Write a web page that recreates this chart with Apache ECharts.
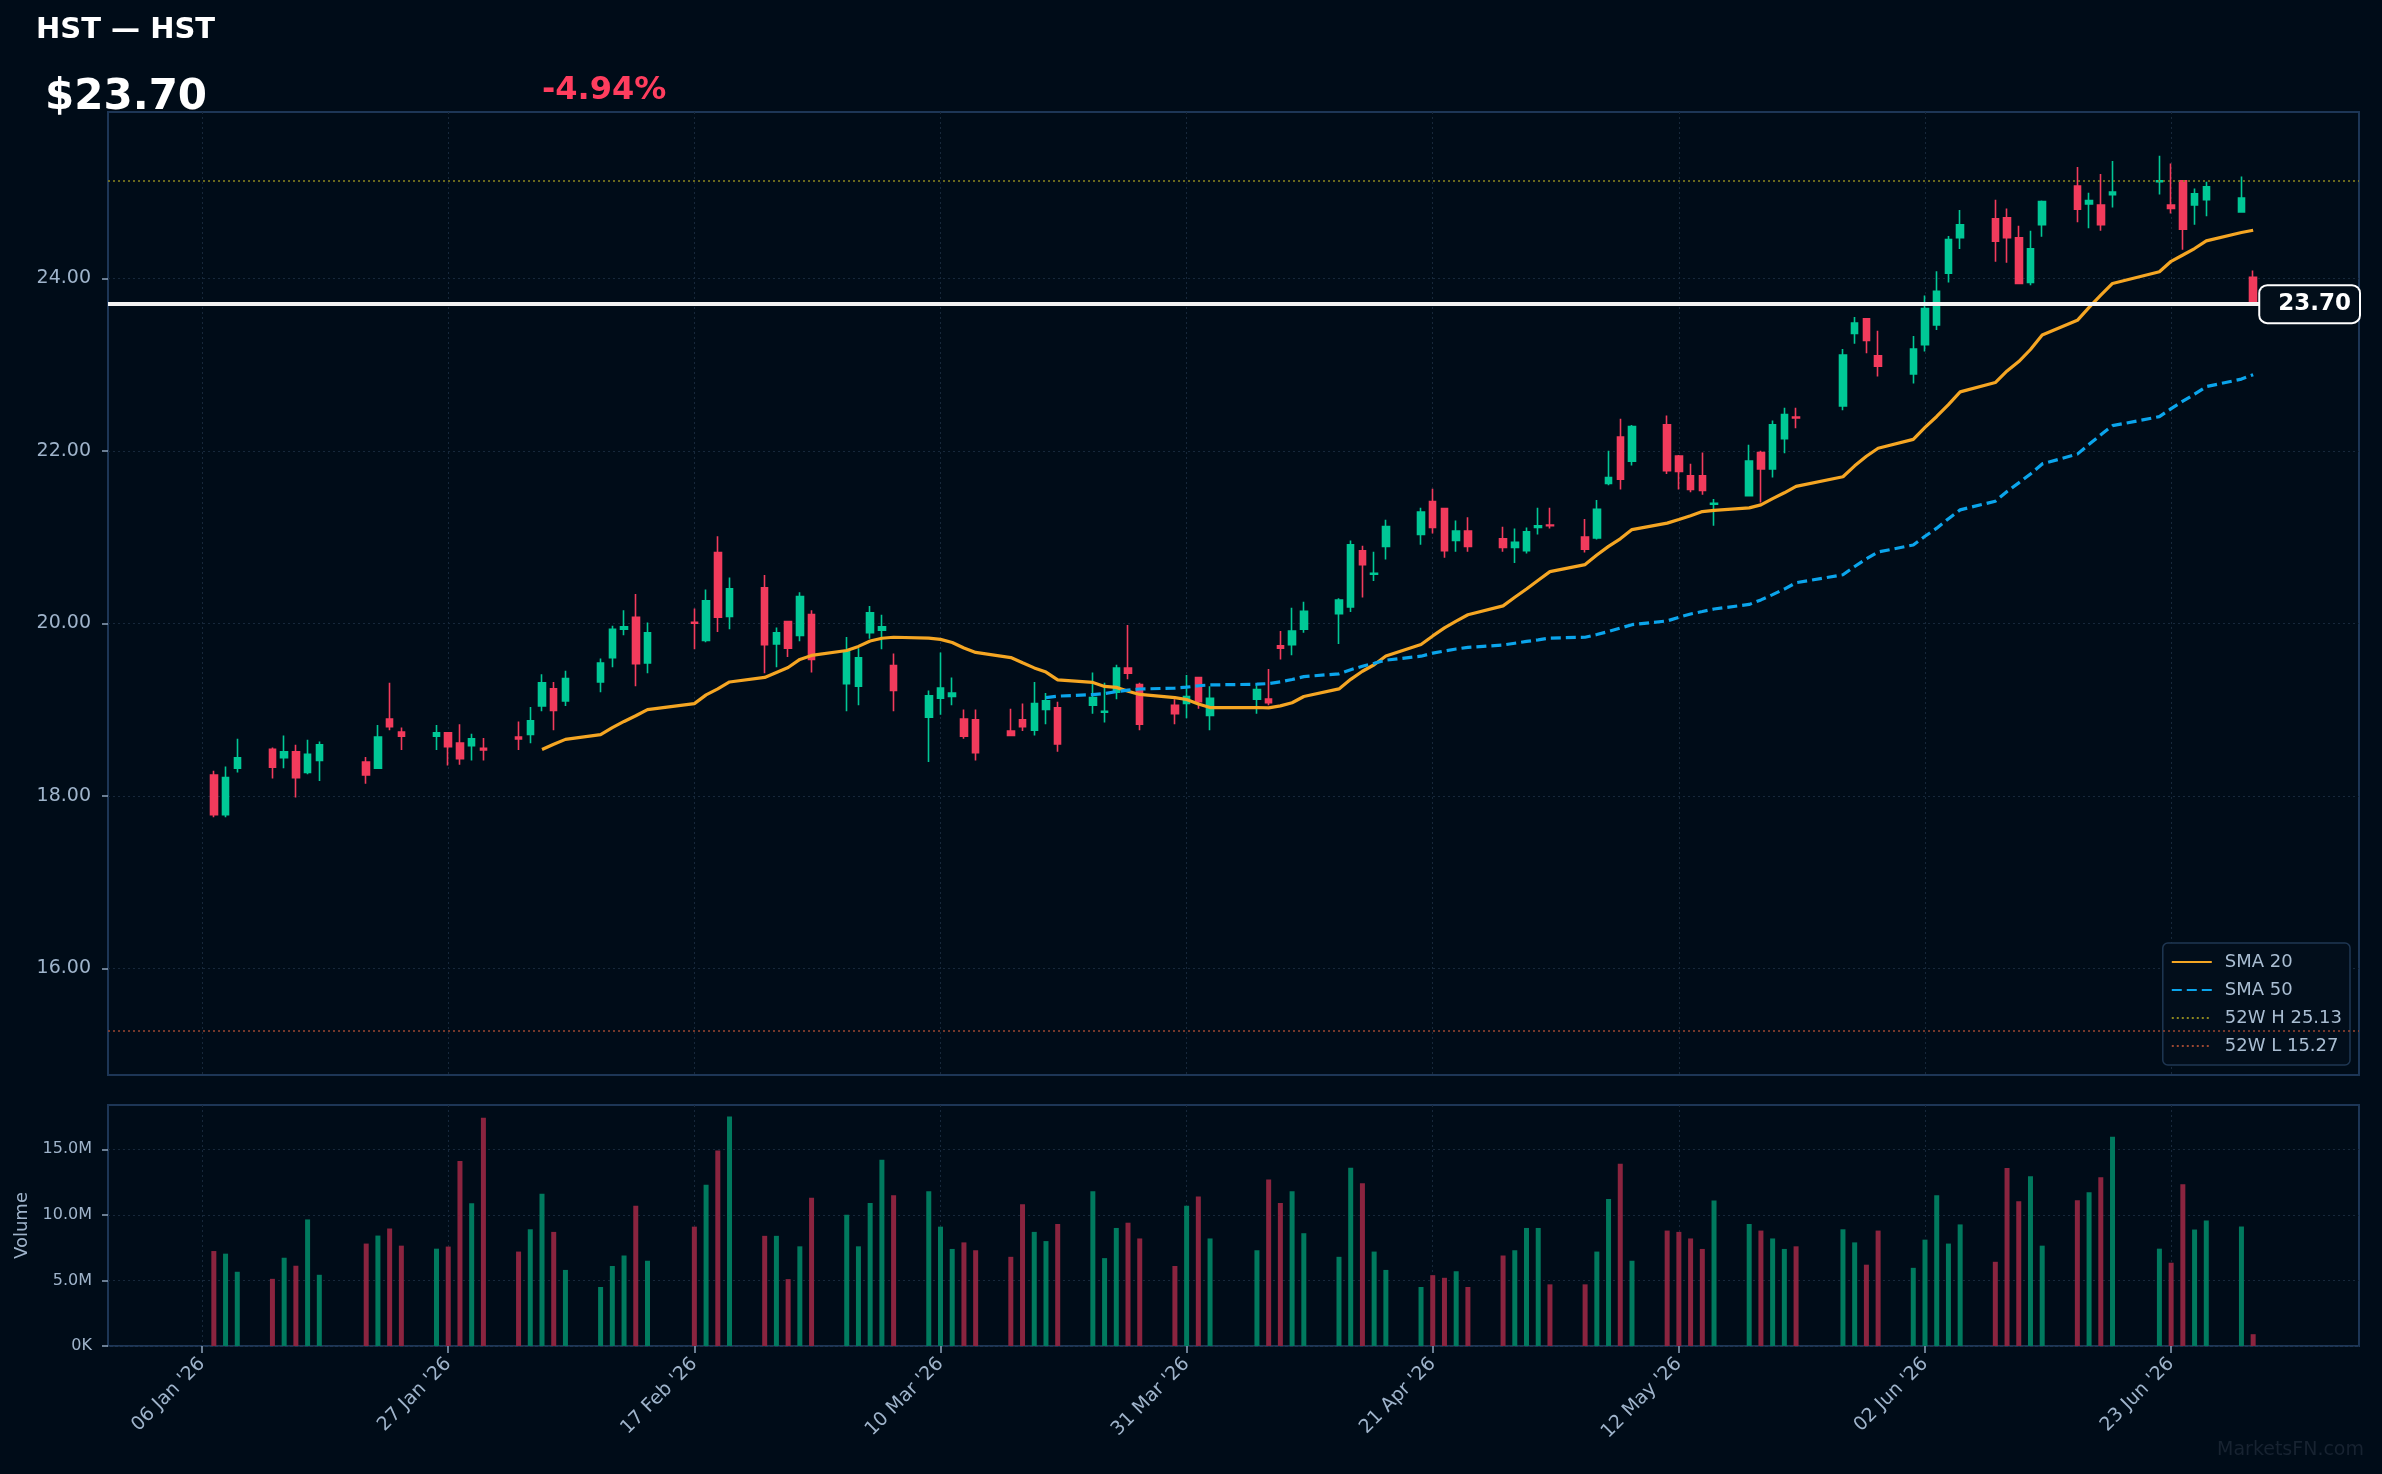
<!DOCTYPE html>
<html>
<head>
<meta charset="utf-8">
<title>HST</title>
<script src="https://cdn.jsdelivr.net/npm/echarts@6.0.0/dist/echarts.min.js"></script>
<style>
html,body{margin:0;padding:0;background:#000c18;}
#chart{width:2382px;height:1474px;}
</style>
</head>
<body>
<div id="chart"></div>
<script>
// daily bars
var dates = [
 '2026-01-07','2026-01-08','2026-01-09','2026-01-12','2026-01-13','2026-01-14','2026-01-15','2026-01-16',
 '2026-01-20','2026-01-21','2026-01-22','2026-01-23','2026-01-26','2026-01-27','2026-01-28','2026-01-29','2026-01-30',
 '2026-02-02','2026-02-03','2026-02-04','2026-02-05','2026-02-06','2026-02-09','2026-02-10','2026-02-11','2026-02-12','2026-02-13',
 '2026-02-17','2026-02-18','2026-02-19','2026-02-20','2026-02-23','2026-02-24','2026-02-25','2026-02-26','2026-02-27',
 '2026-03-02','2026-03-03','2026-03-04','2026-03-05','2026-03-06','2026-03-09','2026-03-10','2026-03-11','2026-03-12','2026-03-13',
 '2026-03-16','2026-03-17','2026-03-18','2026-03-19','2026-03-20','2026-03-23','2026-03-24','2026-03-25','2026-03-26','2026-03-27',
 '2026-03-30','2026-03-31','2026-04-01','2026-04-02','2026-04-06','2026-04-07','2026-04-08','2026-04-09','2026-04-10',
 '2026-04-13','2026-04-14','2026-04-15','2026-04-16','2026-04-17','2026-04-20','2026-04-21','2026-04-22','2026-04-23','2026-04-24',
 '2026-04-27','2026-04-28','2026-04-29','2026-04-30','2026-05-01','2026-05-04','2026-05-05','2026-05-06','2026-05-07','2026-05-08',
 '2026-05-11','2026-05-12','2026-05-13','2026-05-14','2026-05-15','2026-05-18','2026-05-19','2026-05-20','2026-05-21','2026-05-22',
 '2026-05-26','2026-05-27','2026-05-28','2026-05-29','2026-06-01','2026-06-02','2026-06-03','2026-06-04','2026-06-05',
 '2026-06-08','2026-06-09','2026-06-10','2026-06-11','2026-06-12','2026-06-15','2026-06-16','2026-06-17','2026-06-18',
 '2026-06-22','2026-06-23','2026-06-24','2026-06-25','2026-06-26','2026-06-29','2026-06-30'
];
var open = [
 18.24,17.78,18.32,18.54,18.44,18.51,18.27,18.41,
 18.39,18.32,18.89,18.74,18.69,18.73,18.61,18.58,18.55,
 18.68,18.71,19.04,19.24,19.10,19.32,19.60,19.93,20.07,19.54,
 20.01,19.80,20.82,20.08,20.41,19.76,20.02,19.86,20.10,
 19.30,19.27,19.89,19.92,19.51,18.91,19.13,19.15,18.89,18.88,
 18.75,18.88,18.76,19.00,19.02,19.05,18.97,19.20,19.48,19.29,
 19.05,19.07,19.37,18.93,19.12,19.12,19.74,19.75,19.93,
 20.11,20.19,20.84,20.57,20.89,21.03,21.41,21.33,20.96,21.07,
 20.98,20.88,20.84,21.11,21.14,21.00,20.99,21.62,22.16,21.88,
 22.30,21.94,21.71,21.71,21.38,21.48,21.98,21.79,22.14,22.39,
 22.52,23.36,23.53,23.10,22.89,23.23,23.46,24.06,24.47,
 24.69,24.70,24.47,23.95,24.62,25.07,24.86,24.85,24.97,
 25.12,24.85,25.13,24.85,24.91,24.77,24.01
];
var high = [
 18.29,18.34,18.66,18.56,18.70,18.59,18.65,18.63,
 18.45,18.82,19.31,18.79,18.82,18.74,18.83,18.72,18.67,
 18.86,19.03,19.41,19.32,19.45,19.59,19.97,20.15,20.34,20.01,
 20.17,20.39,21.01,20.53,20.56,19.95,20.03,20.36,20.15,
 19.84,19.71,20.20,20.10,19.65,19.22,19.66,19.37,19.00,19.00,
 19.01,19.07,19.32,19.19,19.09,19.43,19.31,19.52,19.98,19.31,
 19.12,19.40,19.38,19.27,19.28,19.47,19.91,20.18,20.25,
 20.29,20.96,20.90,20.83,21.20,21.34,21.56,21.34,21.19,21.23,
 21.12,21.10,21.11,21.34,21.34,21.21,21.43,22.00,22.37,22.30,
 22.41,21.95,21.85,21.98,21.44,22.07,22.00,22.35,22.50,22.50,
 23.18,23.55,23.54,23.39,23.33,23.80,24.08,24.49,24.79,
 24.91,24.81,24.61,24.55,24.90,25.29,24.99,25.21,25.36,
 25.42,25.33,25.13,25.04,25.12,25.18,24.09
];
var low = [
 17.75,17.75,18.27,18.20,18.32,17.98,18.25,18.17,
 18.14,18.31,18.76,18.53,18.53,18.35,18.36,18.41,18.41,
 18.53,18.61,18.98,18.76,19.04,19.20,19.49,19.86,19.27,19.42,
 19.70,19.78,19.90,19.93,19.42,19.49,19.61,19.79,19.43,
 18.98,19.05,19.82,19.70,18.98,18.39,18.94,19.05,18.66,18.41,
 18.69,18.75,18.70,18.83,18.51,18.95,18.85,19.12,19.35,18.76,
 18.83,18.90,19.01,18.76,18.95,19.05,19.58,19.63,19.89,
 19.76,20.13,20.30,20.49,20.74,20.91,21.04,20.76,20.83,20.83,
 20.83,20.70,20.81,21.03,21.10,20.82,20.97,21.60,21.55,21.83,
 21.73,21.55,21.52,21.49,21.13,21.48,21.40,21.69,21.97,22.26,
 22.47,23.24,23.13,22.86,22.78,23.15,23.40,23.95,24.34,
 24.19,24.18,23.94,23.92,24.48,24.65,24.58,24.55,24.82,
 24.97,24.75,24.33,24.62,24.72,24.77,23.69
];
var close = [
 17.78,18.21,18.44,18.33,18.51,18.21,18.48,18.59,
 18.24,18.68,18.80,18.69,18.73,18.57,18.43,18.66,18.53,
 18.66,18.87,19.31,18.99,19.36,19.54,19.93,19.96,19.53,19.89,
 20.00,20.26,20.07,20.40,19.75,19.89,19.71,20.31,19.58,
 19.68,19.60,20.12,19.96,19.22,19.16,19.25,19.19,18.69,18.50,
 18.70,18.80,19.07,19.10,18.60,19.14,18.98,19.48,19.42,18.83,
 18.95,19.15,19.09,19.13,19.23,19.08,19.71,19.91,20.14,
 20.27,20.91,20.68,20.58,21.12,21.29,21.11,20.84,21.07,20.89,
 20.88,20.94,21.06,21.13,21.13,20.86,21.32,21.69,21.67,22.28,
 21.77,21.76,21.55,21.54,21.39,21.88,21.79,22.30,22.42,22.38,
 23.11,23.48,23.28,22.98,23.18,23.65,23.85,24.45,24.62,
 24.43,24.47,23.94,24.34,24.89,24.80,24.90,24.62,25.00,
 25.13,24.81,24.57,24.98,25.06,24.93,23.70
];
// volume in millions
var volume = [
 7.24,7.04,5.66,5.12,6.73,6.12,9.65,5.43,
 7.81,8.42,8.96,7.65,7.42,7.58,14.10,10.88,17.40,
 7.2,8.9,11.6,8.7,5.8,4.5,6.1,6.9,10.7,6.5,
 9.1,12.3,14.9,17.5,8.4,8.4,5.1,7.6,11.3,
 10.0,7.6,10.9,14.2,11.5,11.8,9.1,7.4,7.9,7.3,
 6.8,10.8,8.7,8.0,9.3,11.8,6.7,9.0,9.4,8.2,
 6.1,10.7,11.4,8.2,7.3,12.7,10.9,11.8,8.6,
 6.8,13.6,12.4,7.2,5.8,4.5,5.4,5.2,5.7,4.5,
 6.9,7.3,9.0,9.0,4.7,4.7,7.2,11.2,13.9,6.5,
 8.8,8.7,8.2,7.4,11.1,9.3,8.8,8.2,7.4,7.6,
 8.9,7.9,6.2,8.8,5.96,8.11,11.49,7.81,9.27,
 6.42,13.57,11.03,12.95,7.65,11.11,11.72,12.87,15.95,
 7.42,6.35,12.34,8.88,9.57,9.11,0.90
];
var tickDates = ['2026-01-06','2026-01-27','2026-02-17','2026-03-10','2026-03-31','2026-04-21','2026-05-12','2026-06-02','2026-06-23'];
var priceTicks = [16, 18, 20, 22, 24];
var volTicks = [0, 5, 10, 15];
var ticker = 'HST';
var lastPrice = 23.70;
var changePct = -4.94;
var high52 = 25.13;
var low52 = 15.27;

var upColor = '#00c896', downColor = '#f23b5c';
var volUp = '#007a5e', volDown = '#8b243f';
var axisText = '#9fb4cb', gridLine = '#17283b', frame = '#1d3656';
var DAY = 86400000;
var months = ['Jan','Feb','Mar','Apr','May','Jun','Jul','Aug','Sep','Oct','Nov','Dec'];

function ts(s){
	var p = s.split('-');
	return Date.UTC(+p[0], +p[1]-1, +p[2]);
}
function fmtDate(v){
	var d = new Date(v);
	var dd = d.getUTCDate();
	return (dd<10?'0':'')+dd+' '+months[d.getUTCMonth()]+" '"+String(d.getUTCFullYear()).slice(2);
}
// simple moving average of the closes
function sma(n){
	var out = [];
	for(var i=n-1;i<close.length;i++){
		var s = 0;
		for(var j=i-n+1;j<=i;j++) s += close[j];
		out.push([ts(dates[i]), s/n]);
	}
	return out;
}

var times = dates.map(ts);
var tickTimes = tickDates.map(ts);
// axis extents like matplotlib's 5% margins
var span = times[times.length-1]-times[0]+0.6*DAY;
var xMin = times[0]-0.3*DAY-0.05*span;
var xMax = times[times.length-1]+0.3*DAY+0.05*span;
var yLo = Math.min(low52, Math.min.apply(null, low));
var yHi = Math.max(high52, Math.max.apply(null, high));
var yPad = 0.05*(yHi-yLo);
var volMax = Math.max.apply(null, volume)*1.05;

var candles = dates.map(function(d,i){ return [times[i], open[i], close[i], low[i], high[i]]; });
var volBars = dates.map(function(d,i){
	return { value:[times[i], volume[i]], itemStyle:{ color: close[i]>=open[i] ? volUp : volDown } };
});

var chart = echarts.init(document.getElementById('chart'));
var option = {
	backgroundColor: '#000c18',
	animation: false,
	textStyle: { fontFamily: 'DejaVu Sans' },
	graphic: [
		{ type:'text', left:36, top:16, style:{ text: ticker+' \u2014 '+ticker, fill:'#ffffff', font:'bold 29px "DejaVu Sans"' } },
		{ type:'text', left:45, top:77, style:{ text: '$'+lastPrice.toFixed(2), fill:'#ffffff', font:'bold 42px "DejaVu Sans"' } },
		{ type:'text', left:542, top:75, style:{ text: changePct.toFixed(2)+'%', fill:'#ff3d5e', font:'bold 32px "DejaVu Sans"' } },
		{ type:'text', right:18, bottom:14, style:{ text: 'MarketsFN.com', fill:'#172331', font:'19px "DejaVu Sans"' } }
	],
	legend: {
		data: ['SMA 20','SMA 50','52W H '+high52.toFixed(2),'52W L '+low52.toFixed(2)],
		orient: 'vertical',
		right: 32,
		bottom: 409,
		itemWidth: 40,
		itemHeight: 14,
		itemGap: 10,
		padding: [10, 8],
		backgroundColor: '#020e1b',
		borderColor: '#1f3753',
		borderWidth: 1.5,
		borderRadius: 5,
		itemStyle: { opacity: 0 },
		textStyle: { color: '#a9bdd2', fontSize: 18, padding: [0,0,0,8] }
	},
	grid: [
		{ left:108, right:23, top:112, height:963, show:true, borderColor:frame, borderWidth:2 },
		{ left:108, right:23, top:1105, height:241, show:true, borderColor:frame, borderWidth:2 }
	],
	xAxis: [
		{
			type:'value', gridIndex:0, min:xMin, max:xMax,
			axisLine:{show:false},
			axisTick:{show:false, customValues:tickTimes},
			axisLabel:{show:false, customValues:tickTimes},
			splitLine:{show:true, lineStyle:{color:gridLine, type:[2,3], width:1}}
		},
		{
			type:'value', gridIndex:1, min:xMin, max:xMax,
			axisLine:{show:false},
			axisTick:{show:true, length:7, customValues:tickTimes, lineStyle:{color:'#8ea4bc', width:1.5}},
			axisLabel:{show:true, customValues:tickTimes, rotate:45, margin:15, color:axisText, fontSize:19, formatter:fmtDate},
			splitLine:{show:true, lineStyle:{color:gridLine, type:[2,3], width:1}}
		}
	],
	yAxis: [
		{
			type:'value', gridIndex:0, min:yLo-yPad, max:yHi+yPad,
			axisLine:{show:false},
			axisTick:{show:true, length:6, customValues:priceTicks, lineStyle:{color:'#8ea4bc', width:1.5}},
			axisLabel:{customValues:priceTicks, color:axisText, fontSize:19, margin:17, formatter:function(v){ return v.toFixed(2); }},
			splitLine:{show:true, lineStyle:{color:gridLine, type:[2,3], width:1}}
		},
		{
			type:'value', gridIndex:1, min:0, max:volMax,
			name:'Volume', nameLocation:'middle', nameGap:76,
			nameTextStyle:{color:axisText, fontSize:18},
			axisLine:{show:false},
			axisTick:{show:true, length:6, customValues:volTicks, lineStyle:{color:'#8ea4bc', width:1.5}},
			axisLabel:{customValues:volTicks, color:axisText, fontSize:16, margin:16, formatter:function(v){ return v===0 ? '0K' : v.toFixed(1)+'M'; }},
			splitLine:{show:true, lineStyle:{color:gridLine, type:[2,3], width:1}}
		}
	],
	series: [
		{
			name: ticker, type:'candlestick', xAxisIndex:0, yAxisIndex:0,
			data: candles, encode:{ x:0, y:[1,2,3,4] },
			barWidth: 7,
			itemStyle:{ color:upColor, color0:downColor, borderColor:upColor, borderColor0:downColor, borderWidth:1.6 },
			markLine:{
				silent:true, symbol:['none','none'], z:10,
				lineStyle:{ color:'#f2f2f2', width:4, type:'solid' },
				label:{
					show:true, position:'insideEnd', distance:0,
					formatter: lastPrice.toFixed(2),
					color:'#ffffff', fontSize:23, fontWeight:'bold', lineHeight:26,
					backgroundColor:'#020e1a', borderColor:'#ffffff', borderWidth:2, borderRadius:7,
					padding:[5, 8, 5, 18]
				},
				data:[ { yAxis:lastPrice } ]
			}
		},
		{
			name:'SMA 20', type:'line', xAxisIndex:0, yAxisIndex:0, data: sma(20),
			symbol:'none', lineStyle:{ color:'#f5a623', width:3.2 }, itemStyle:{ color:'#f5a623' }
		},
		{
			name:'SMA 50', type:'line', xAxisIndex:0, yAxisIndex:0, data: sma(50),
			symbol:'none', lineStyle:{ color:'#0ba5ec', width:3.2, type:[10,5] }, itemStyle:{ color:'#0ba5ec' }
		},
		{
			name:'52W H '+high52.toFixed(2), type:'line', xAxisIndex:0, yAxisIndex:0, data:[],
			symbol:'none', lineStyle:{ color:'#8c861e', width:1.5, type:[2,3] }, itemStyle:{ color:'#8c861e' },
			markLine:{ silent:true, symbol:['none','none'], label:{show:false},
				lineStyle:{ color:'#8c861e', width:1.5, type:[2,3] }, data:[ { yAxis:high52 } ] }
		},
		{
			name:'52W L '+low52.toFixed(2), type:'line', xAxisIndex:0, yAxisIndex:0, data:[],
			symbol:'none', lineStyle:{ color:'#9b4631', width:1.5, type:[2,3] }, itemStyle:{ color:'#9b4631' },
			markLine:{ silent:true, symbol:['none','none'], label:{show:false},
				lineStyle:{ color:'#9b4631', width:1.5, type:[2,3] }, data:[ { yAxis:low52 } ] }
		},
		{
			name:'Volume', type:'bar', xAxisIndex:1, yAxisIndex:1, data: volBars, barWidth:5
		}
	]
};
chart.setOption(option);
</script>
</body>
</html>
